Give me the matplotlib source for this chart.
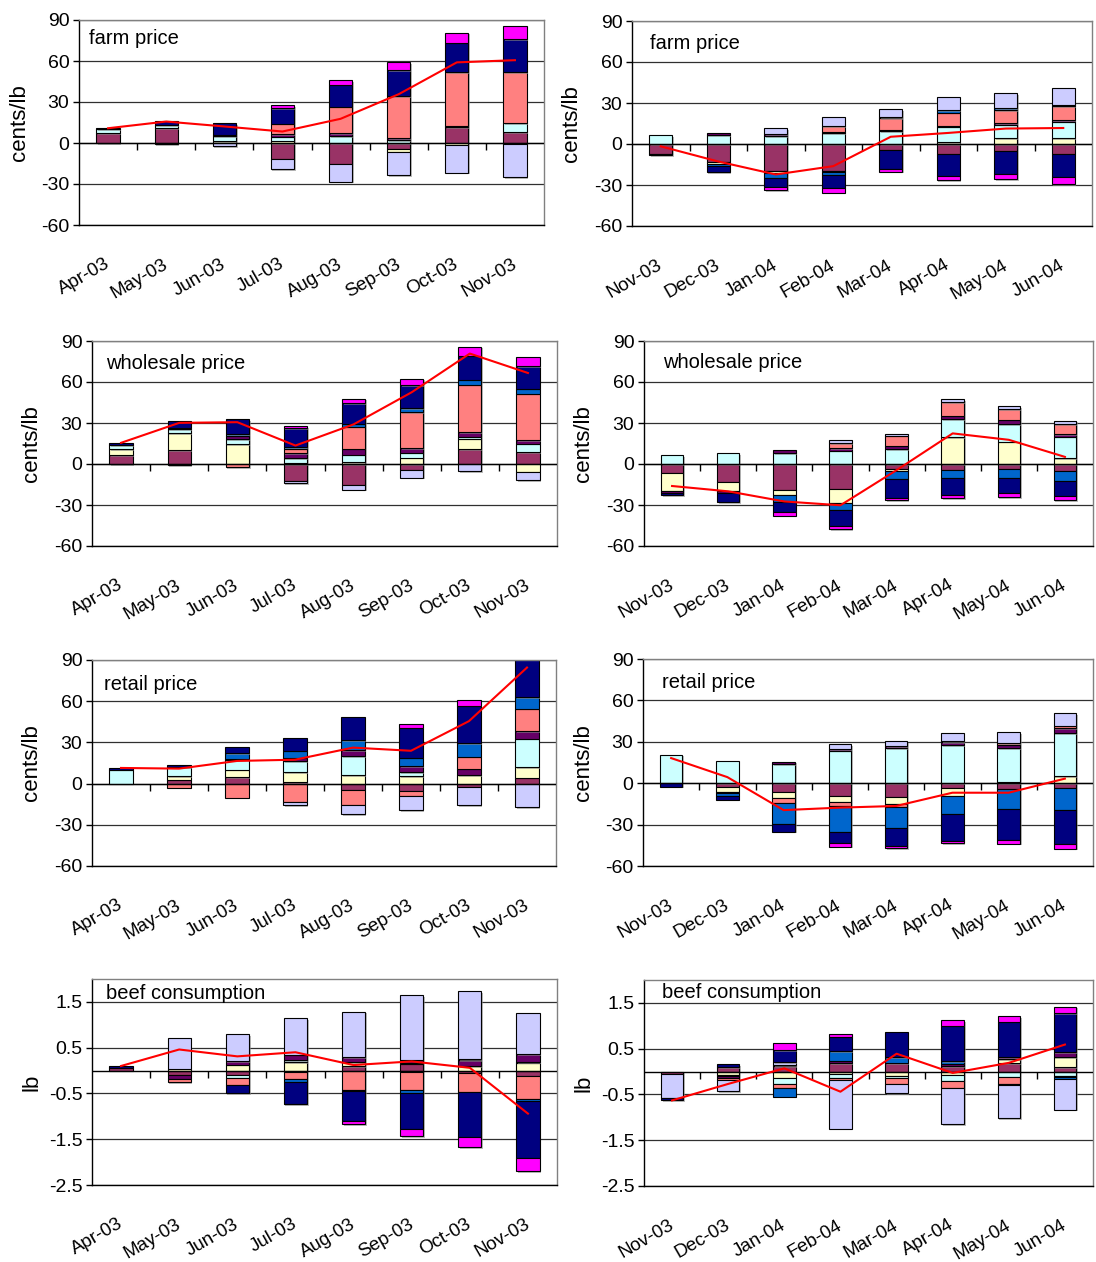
import numpy as np
import matplotlib.pyplot as plt
import matplotlib.patheffects as pe
import matplotlib.transforms as mtransforms

plt.rcParams['font.family'] = ['Liberation Sans', 'DejaVu Sans']
plt.rcParams['axes.unicode_minus'] = False

months_a = ['Apr-03', 'May-03', 'Jun-03', 'Jul-03', 'Aug-03', 'Sep-03', 'Oct-03', 'Nov-03']
months_b = ['Nov-03', 'Dec-03', 'Jan-04', 'Feb-04', 'Mar-04', 'Apr-04', 'May-04', 'Jun-04']

# contribution colours, in stacking order (one row per component in each table)
colors = ['#993366', '#FFFFCC', '#CCFFFF', '#660066', '#FF8080',
          '#0066CC', '#CCCCFF', '#000080', '#FF00FF']

# farm price, cents/lb
farm_a = [
    [7, 11, 0, -12, -15, -4.4, 11.6, 7.7],
    [0, -0.7, 1.5, 1.7, 0, -2.4, -1.2, 0],
    [3, 2, 3.5, 3, 4.8, 2, 0, 6.8],
    [0, 0, 1, 2, 2.4, 1.5, 1, -1],
    [0, 0, 0, 7.5, 19.4, 31, 39.4, 37.5],
    [0, 0, 0, 0, 0, 0, 0, 0],
    [0, 0, -2.4, -7.3, -13.3, -16.5, -20.6, -24],
    [0.8, 3.4, 8.5, 11.5, 16, 19, 21.3, 24.2],
    [0, 0, 0, 2, 3.4, 5.5, 7.5, 9.4],
]
farm_b = [
    [-7.3, -13.4, -20, -20, -4.4, -7.3, -5.4, -7.3],
    [0, -1.2, -1.4, -0.8, 0, 1.2, 4.4, 4.4],
    [6.6, 6.6, 5.6, 7.8, 9.3, 11.5, 9.8, 12],
    [0, 1.2, 1.7, 1.2, 1.2, 0.8, 1, 1.2],
    [0, 0, 0, 3.9, 8.3, 9.5, 9.8, 10],
    [0, -1.5, -3.4, -2, 0.7, 2, 1.2, 1.2],
    [0, 0, 4.4, 6.6, 6.1, 9.5, 10.8, 12.2],
    [-1, -4.5, -6.8, -9.3, -13.9, -15.9, -16.6, -17.1],
    [0, 0, -2.4, -3.6, -2, -3.2, -3.7, -4.9],
]

# wholesale price, cents/lb
wholesale_a = [
    [6.3, 10.2, 0, -12.4, -15, -4.6, 10.7, 8.7],
    [4.4, 12.6, 14.3, 1, 1.5, 4.6, 7.8, -5.8],
    [2.9, 2.9, 4.1, 3.4, 5.3, 3.6, 1.4, 6.1],
    [0, 0.8, 2.4, 3.6, 4.4, 3.2, 3.6, 2.7],
    [0, 0, -2.2, 3.2, 16, 26.7, 34.5, 34],
    [0, 0, 0.8, 1.2, 2.2, 2.9, 3.6, 3.6],
    [0, -1, 0, -1.7, -3.9, -5.3, -5.1, -5.8],
    [1.9, 4.6, 11.2, 14, 15.3, 16.5, 17.7, 16.3],
    [0, 0, 0, 1.2, 3.2, 4.9, 6.6, 6.8],
]
wholesale_b = [
    [-6.8, -12.9, -18.8, -18.3, -3.7, -4.4, -3.7, -4.9],
    [-12.7, -6.6, -3.9, -10.2, -1.2, 19.5, 16.3, 4.4],
    [6.6, 8, 8, 9.8, 11, 13.4, 12.9, 15.5],
    [-1.7, -1.7, 2.4, 2, 2.4, 2.4, 3.2, 2],
    [0, 0, 0, 3.5, 7.3, 9.8, 7.8, 7.3],
    [0, 0, -4.9, -4.9, -6.1, -6.1, -6.6, -7.8],
    [0, 0, 0, 2, 1.2, 2.4, 2, 2.4],
    [-1.5, -6.8, -7.3, -11.7, -13.9, -12.2, -11, -10.5],
    [0, 0, -2.9, -2.4, -1.5, -2.4, -3.2, -3.2],
]

# retail price, cents/lb
retail_a = [
    [0, 2.9, 4.9, 1, -4.4, -5.5, -2.4, 4.4],
    [0, 2.4, 5.3, 7.5, 6.1, 5.3, 6, 7.8],
    [10.2, 6.8, 7.3, 8, 13.8, 3, 0, 20.6],
    [0, 0, 0.7, 2.5, 4.4, 4.4, 4.9, 5.3],
    [0, -2.9, -10.2, -13.3, -11.4, -3.6, 8.7, 16.5],
    [0, 0, 4.1, 4.9, 7.3, 6.3, 10, 8.5],
    [0, 0, 0, -2.4, -6.6, -10.2, -13.3, -17],
    [1.2, 1.7, 4.4, 9.2, 17, 21.8, 27.2, 38.4],
    [0, 0, 0, 0, 0, 2.4, 4.4, 0],
]
retail_b = [
    [0, -2.9, -6.1, -9.2, -10.2, -3.2, -4.4, -3.6],
    [0, -3.2, -4.9, -4.4, -4.9, -5.8, 0.8, 4.9],
    [20.6, 16.3, 13.8, 23.5, 25.5, 27.4, 24.8, 31.5],
    [0, 0, 1.9, 1.2, 1.2, 2.2, 2.4, 3.6],
    [0, -1.2, -3.6, -3, -1.9, 1, 1, 1.7],
    [0, -1.7, -15, -19, -15.3, -13.3, -14, -15.8],
    [0, 0, 0, 3.6, 3.9, 6.1, 8, 9],
    [-2.4, -2.9, -5.6, -8, -12.9, -19.4, -22.8, -24.8],
    [0, 0, 0, -2.4, -1.9, -1.9, -2.7, -3.2],
]

# beef consumption, lb
beef_a = [
    [0.06, -0.09, -0.1, -0.03, 0.09, 0.15, -0.05, -0.11],
    [0, 0.04, 0.13, 0.18, 0.1, 0.02, 0.1, 0.17],
    [0, 0, -0.06, 0.04, 0, -0.03, 0, 0.02],
    [0, -0.09, 0.07, 0.13, 0.1, 0.07, 0.12, 0.17],
    [0, -0.08, -0.15, -0.15, -0.43, -0.4, -0.42, -0.51],
    [0, 0, 0, -0.06, -0.02, -0.06, 0.03, -0.05],
    [0, 0.68, 0.6, 0.79, 1.0, 1.4, 1.48, 0.9],
    [0.04, 0, -0.18, -0.48, -0.65, -0.79, -0.98, -1.25],
    [0, 0, 0, -0.02, -0.07, -0.16, -0.22, -0.28],
]
beef_b = [
    [-0.06, 0.09, 0.12, 0.19, 0.19, 0.12, 0.18, 0.1],
    [0, -0.07, -0.15, -0.06, -0.09, -0.07, 0.09, 0.22],
    [0, -0.03, -0.12, -0.07, -0.06, -0.13, -0.11, -0.09],
    [0, -0.05, 0.02, 0.05, 0, 0.05, 0.04, 0.1],
    [0, -0.03, -0.08, -0.05, -0.12, -0.15, -0.17, -0.02],
    [0, 0, -0.2, 0.2, 0.12, 0.05, -0.02, -0.05],
    [-0.52, -0.25, 0.06, -1.07, -0.2, -0.8, -0.72, -0.67],
    [-0.05, 0.07, 0.27, 0.32, 0.55, 0.78, 0.78, 0.85],
    [0, 0, 0.15, 0.05, 0, 0.12, 0.12, 0.15],
]

price_ticks = [-60, -30, 0, 30, 60, 90]
beef_ticks = [-2.5, -1.5, -0.5, 0.5, 1.5]

W, H = 1096, 1262
fig = plt.figure(figsize=(W / 100, H / 100), dpi=100)

shadow = [pe.SimplePatchShadow(offset=(1.2, -1.2), shadow_rgbFace='#8c8c8c', alpha=0.6), pe.Normal()]


def draw_panel(table, months, title, rect, title_xy, beef=False):
    x0, y0, x1, y1 = rect
    ax = fig.add_axes([x0 / W, 1 - y1 / H, (x1 - x0) / W, (y1 - y0) / H])
    vals = np.array(table, dtype=float)
    x = np.arange(vals.shape[1])

    # positive parts stack upward from zero, negative parts downward
    top = np.zeros(len(x))
    bot = np.zeros(len(x))
    for row, c in zip(vals, colors):
        up = row > 0
        dn = row < 0
        for mask, base in ((up, top), (dn, bot)):
            if mask.any():
                bars = ax.bar(x[mask], row[mask], 0.4, bottom=base[mask], color=c,
                              edgecolor='black', linewidth=0.8, zorder=2)
                for b in bars:
                    b.set_path_effects(shadow)
        top += np.where(up, row, 0)
        bot += np.where(dn, row, 0)

    ax.plot(x, vals.sum(axis=0), color='#ff0000', lw=1.5, zorder=4)

    if beef:
        ylim = (-2.5, 2.0)
        ax.set_yticks(beef_ticks)
        ax.set_yticklabels(['%.1f' % t for t in beef_ticks])
        ylabel = 'lb'
    else:
        ylim = (-60, 90)
        ax.set_yticks(price_ticks)
        ax.set_yticklabels([str(t) for t in price_ticks])
        ylabel = 'cents/lb'
    ax.set_ylim(ylim)
    ax.set_xlim(-0.5, len(x) - 0.5)
    ax.yaxis.grid(True, color='#303030', lw=0.9)
    ax.set_axisbelow(True)
    ax.tick_params(axis='y', length=4, width=1, labelsize=14, pad=3)

    ax.set_xticks(x)
    ax.set_xticklabels(months, rotation=30, ha='right', va='top', rotation_mode='anchor')
    ax.tick_params(axis='x', length=0, pad=22, labelsize=13.5)
    nudge = mtransforms.ScaledTranslation(-4 / 100, 0, fig.dpi_scale_trans)
    for lab in ax.get_xticklabels():
        lab.set_transform(lab.get_transform() + nudge)

    # category axis at zero with tick marks between the months
    ax.axhline(0, color='black', lw=1, zorder=3)
    zf = (0 - ylim[0]) / (ylim[1] - ylim[0])
    tk = 7 / (y1 - y0)
    ax.vlines(np.arange(0.5, len(x) - 0.5, 1), zf - tk, zf, transform=ax.get_xaxis_transform(),
              color='black', lw=1, zorder=3)

    for s in ('left', 'bottom'):
        ax.spines[s].set_color('black')
        ax.spines[s].set_linewidth(1)
    for s in ('top', 'right'):
        ax.spines[s].set_color('#808080')
        ax.spines[s].set_linewidth(1)

    ax.text(title_xy[0], title_xy[1], title, transform=ax.transAxes, fontsize=14.5,
            ha='left', va='center')
    fig.text((x0 - 60) / W, 1 - (y0 + y1) / 2 / H, ylabel, rotation=90,
             ha='center', va='center', fontsize=16)
    return ax


draw_panel(farm_a, months_a, 'farm price', (79, 20, 544, 225), (0.022, 0.912))
draw_panel(farm_b, months_b, 'farm price', (632, 21, 1092, 226), (0.039, 0.888))
draw_panel(wholesale_a, months_a, 'wholesale price', (92, 341, 557, 546), (0.030, 0.888))
draw_panel(wholesale_b, months_b, 'wholesale price', (644, 341, 1093, 546), (0.042, 0.893))
draw_panel(retail_a, months_a, 'retail price', (92, 660, 556, 866), (0.026, 0.883))
draw_panel(retail_b, months_b, 'retail price', (643, 659, 1093, 866), (0.042, 0.888))
draw_panel(beef_a, months_a, 'beef consumption', (92, 979, 557, 1185), (0.030, 0.932), beef=True)
draw_panel(beef_b, months_b, 'beef consumption', (644, 980, 1093, 1186), (0.040, 0.937), beef=True)

fig.savefig('out.png', dpi=100)
